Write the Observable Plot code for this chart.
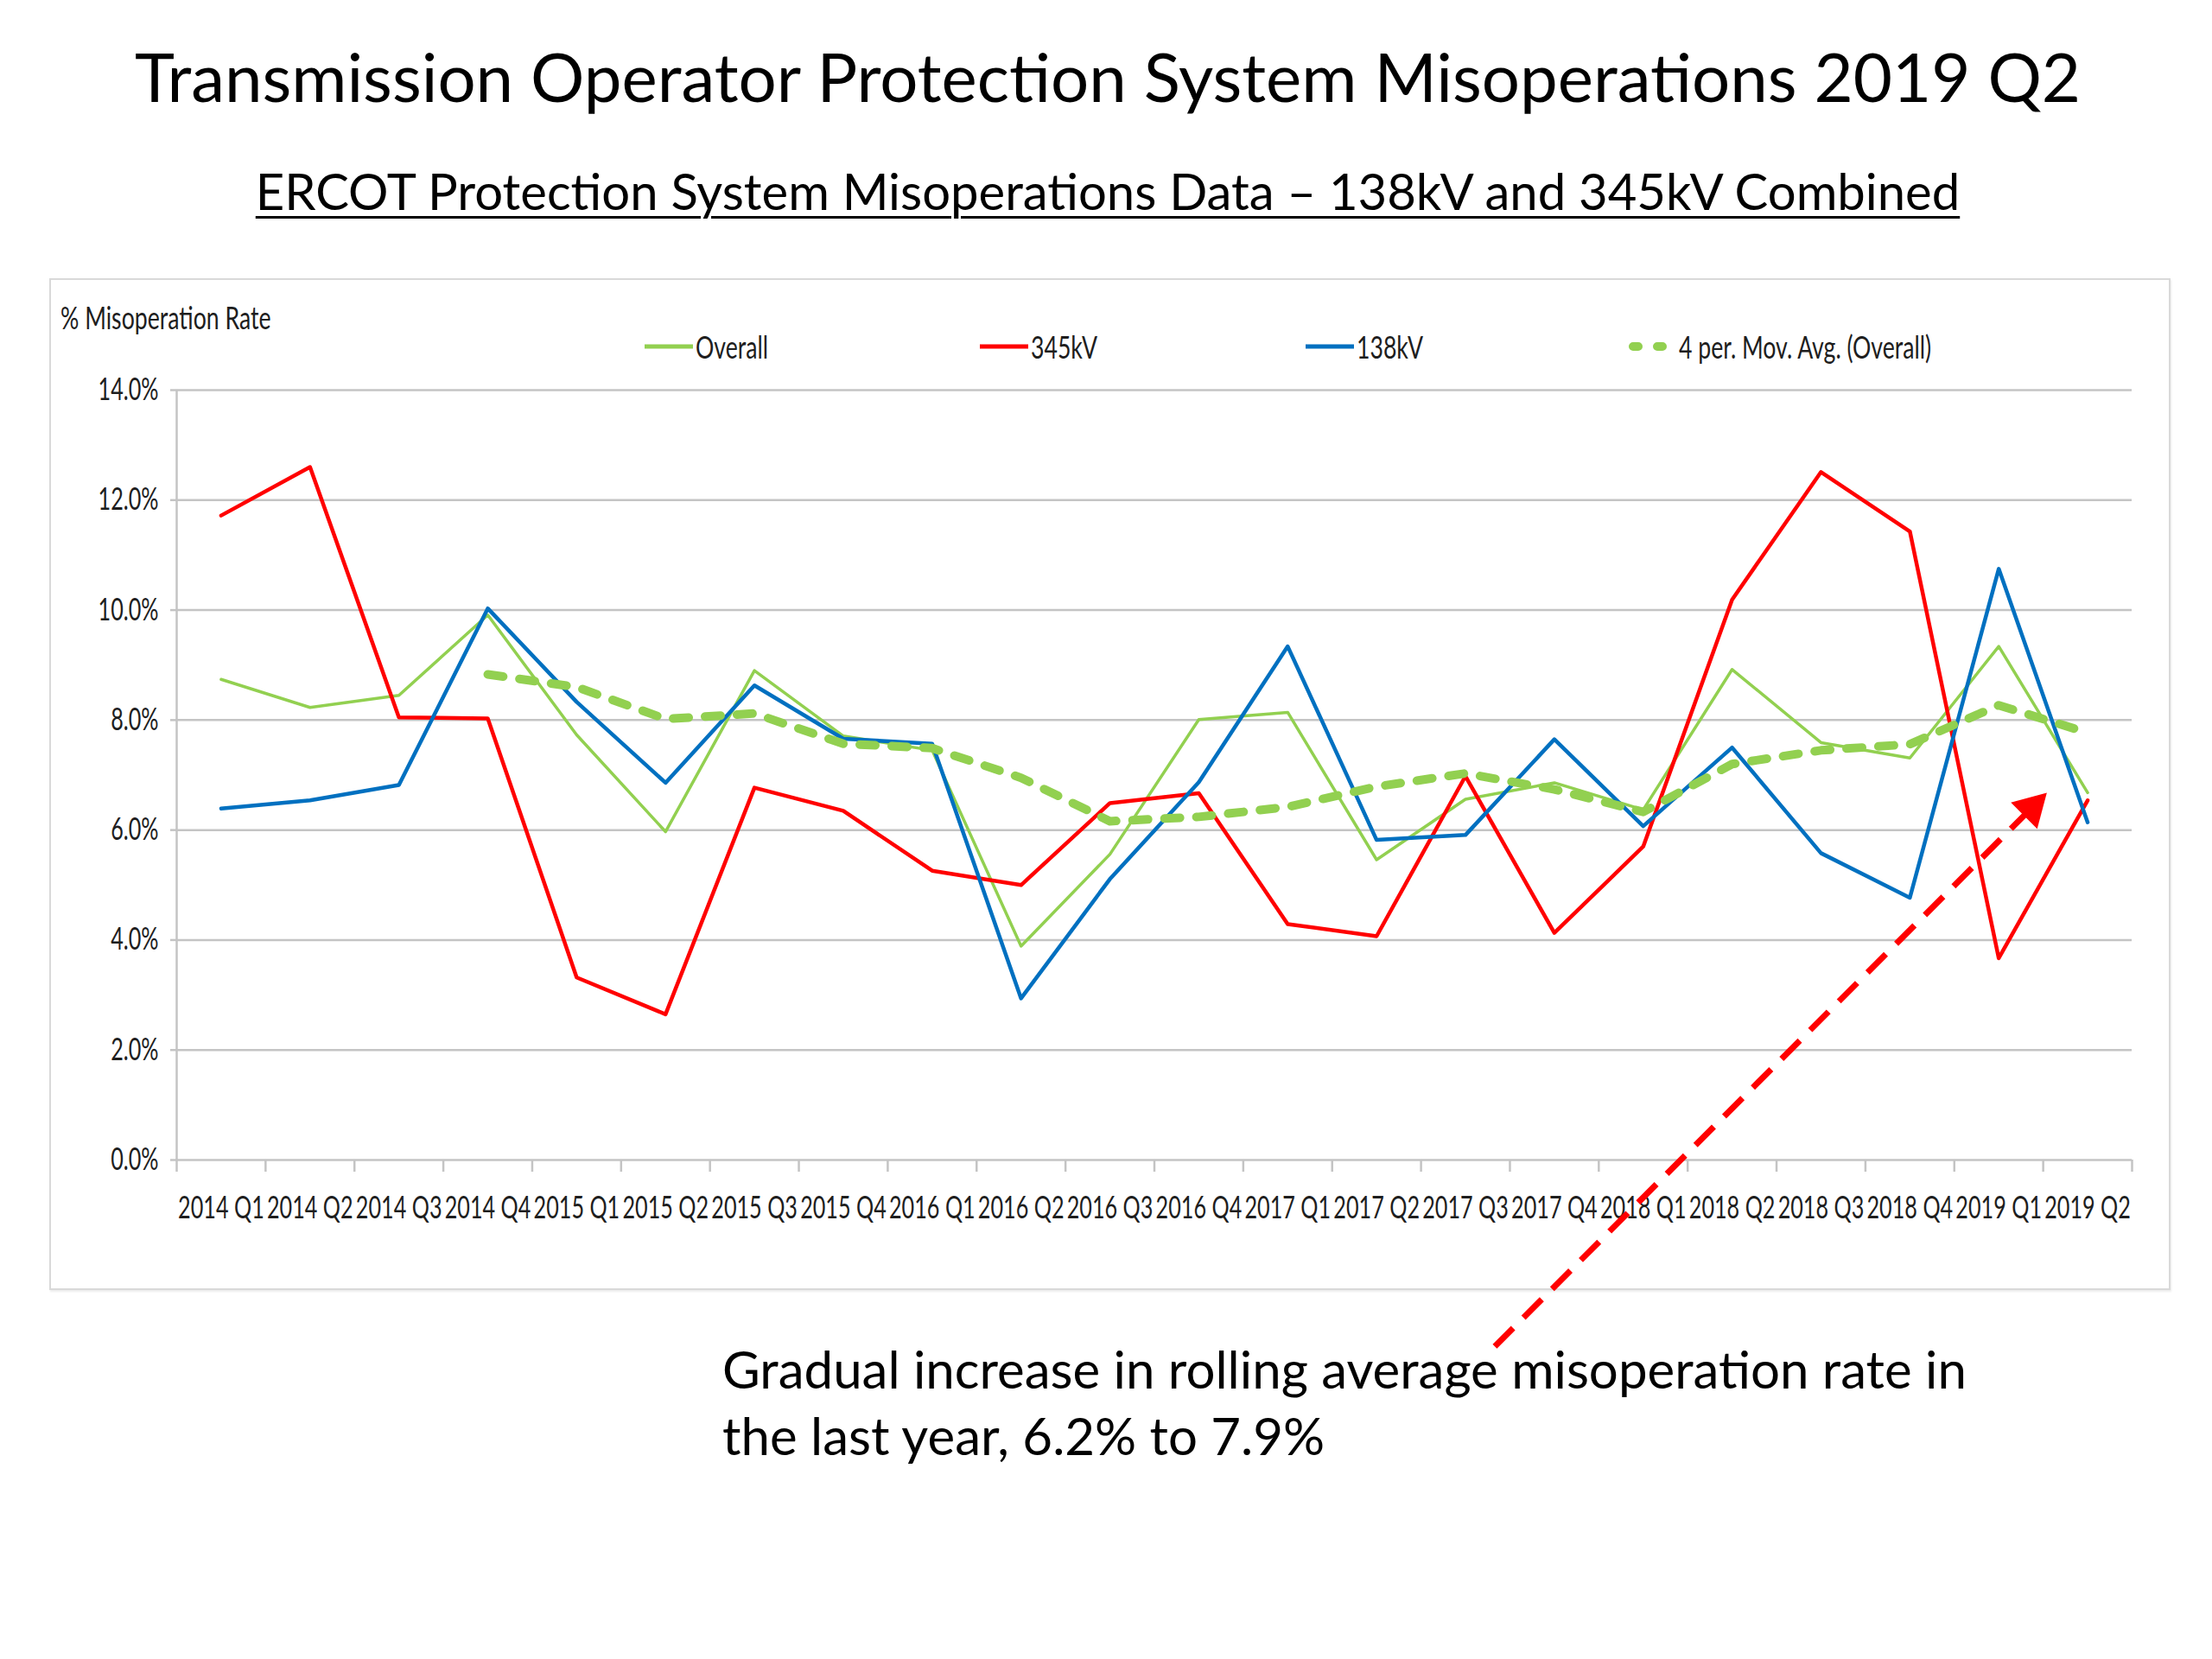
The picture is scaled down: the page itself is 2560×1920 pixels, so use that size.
<!DOCTYPE html>
<html>
<head>
<meta charset="utf-8">
<script src="https://cdn.jsdelivr.net/npm/d3@7"></script>
<script src="https://cdn.jsdelivr.net/npm/@observablehq/plot@0.6"></script>
<style>
  html, body { margin: 0; padding: 0; background: #fff; }
  #page { position: relative; width: 2560px; height: 1920px; overflow: hidden; background: #fff; font-family: Lato, "Open Sans", sans-serif; }
  .title { position: absolute; left: 0; width: 2564px; text-align: center; color: #000; white-space: nowrap; }
  #t1 { top: 49px; font-size: 78px; line-height: 78px; }
  #t2 { top: 192px; font-size: 58px; line-height: 58px; text-decoration: underline; text-decoration-thickness: 3px; text-underline-offset: 7px; }
  #frame { position: absolute; left: 57px; top: 322px; width: 2451px; height: 1167px; border: 2.5px solid #d9d9d9; box-shadow: 1px 2px 2px rgba(0,0,0,0.08); }
  .chartText { font-family: Lato, sans-serif; color: #1e1e1e; font-size: 36px; }
  .squash { display: inline-block; transform: scaleX(0.74); transform-origin: left center; }
  #ylabel { position: absolute; left: 70px; top: 347px; line-height: 40px; white-space: nowrap; }
  .leg { position: absolute; top: 381px; height: 40px; line-height: 40px; white-space: nowrap; display: flex; align-items: center; }
  .leg svg { display: block; margin-right: 1px; }
  #plotHolder { position: absolute; left: 0; top: 322px; }
  #note { position: absolute; left: 836px; top: 1546px; font-size: 60px; line-height: 77px; color: #000; white-space: nowrap; }
</style>
</head>
<body>
<div id="page">
  <div id="t1" class="title">Transmission Operator Protection System Misoperations 2019 Q2</div>
  <div id="t2" class="title">ERCOT Protection System Misoperations Data – 138kV and 345kV Combined</div>
  <div id="frame"></div>
  <div id="ylabel" class="chartText"><span class="squash">% Misoperation Rate</span></div>
  <div id="legend"></div>
  <div id="plotHolder"></div>
  <div id="note">Gradual increase in rolling average misoperation rate in<br>the last year, 6.2% to 7.9%</div>
</div>
<script>
// ---- data ----
const categories = ["2014 Q1","2014 Q2","2014 Q3","2014 Q4","2015 Q1","2015 Q2","2015 Q3","2015 Q4",
  "2016 Q1","2016 Q2","2016 Q3","2016 Q4","2017 Q1","2017 Q2","2017 Q3","2017 Q4",
  "2018 Q1","2018 Q2","2018 Q3","2018 Q4","2019 Q1","2019 Q2"];
const overall = [8.74, 8.23, 8.45, 9.91, 7.73, 5.97, 8.90, 7.71, 7.45, 3.89, 5.56, 8.01, 8.14, 5.46, 6.56, 6.86, 6.37, 8.92, 7.59, 7.31, 9.34, 6.68];
const kv345 = [11.72, 12.60, 8.05, 8.03, 3.32, 2.65, 6.77, 6.35, 5.26, 5.00, 6.49, 6.67, 4.29, 4.07, 6.98, 4.13, 5.70, 10.19, 12.51, 11.43, 3.67, 6.54];
const kv138 = [6.39, 6.54, 6.82, 10.03, 8.33, 6.86, 8.63, 7.66, 7.57, 2.94, 5.11, 6.87, 9.34, 5.82, 5.91, 7.65, 6.07, 7.50, 5.58, 4.77, 10.75, 6.14];
const movAvg = [null, null, null, 8.83, 8.60, 8.02, 8.12, 7.57, 7.49, 6.95, 6.16, 6.24, 6.42, 6.79, 7.03, 6.74, 6.33, 7.20, 7.45, 7.56, 8.27, 7.77];
const yTicks = [0, 2, 4, 6, 8, 10, 12, 14];
const seriesNames = ["Overall", "345kV", "138kV", "4 per. Mov. Avg. (Overall)"];
// annotation arrow (in chart units: category index, percent)
const arrowLine = [{x1: 14.33, y1: -3.39, x2: 20.40, y2: 6.45}];
const arrowHead = [{x: 20.37, y: 6.40}];

const colors = {overall: "#92d050", kv345: "#ff0000", kv138: "#0070c0"};

const rows = categories.map((c, i) => ({i, c, overall: overall[i], kv345: kv345[i], kv138: kv138[i], ma: movAvg[i]}));
const boundaries = d3.range(categories.length + 1).map(k => k - 0.5);

const chart = Plot.plot({
  width: 2560,
  height: 1598,
  marginLeft: 204,
  marginRight: 93,
  marginTop: 129,
  marginBottom: 578,
  style: {background: "transparent", fontFamily: "Lato, sans-serif", fontSize: "36px", color: "#1e1e1e", overflow: "visible"},
  x: {type: "linear", domain: [-0.5, categories.length - 0.5]},
  y: {domain: [0, 14]},
  marks: [
    Plot.ruleY(yTicks, {stroke: "#c4c4c4", strokeWidth: 2.5}),
    Plot.ruleX([-0.5], {y1: 0, y2: 14, stroke: "#c4c4c4", strokeWidth: 2.5}),
    Plot.axisY({ticks: yTicks, tickFormat: d => d.toFixed(1) + "%", tickSize: 7, tickPadding: 14, stroke: "#c4c4c4", strokeWidth: 2.5, fill: "#1e1e1e", label: null}),
    Plot.axisX({ticks: boundaries, tickFormat: () => "", tickSize: 14, stroke: "#c4c4c4", strokeWidth: 2.5, label: null}),
    Plot.axisX({ticks: d3.range(categories.length), tickFormat: i => categories[i], tickSize: 0, tickPadding: 42, fill: "#1e1e1e", fontSize: 36, label: null}),
    Plot.line(rows, {x: "i", y: "overall", stroke: colors.overall, strokeWidth: 3.5, strokeLinejoin: "round"}),
    Plot.line(rows, {x: "i", y: "kv345", stroke: colors.kv345, strokeWidth: 4.5, strokeLinejoin: "round"}),
    Plot.line(rows, {x: "i", y: "kv138", stroke: colors.kv138, strokeWidth: 4.5, strokeLinejoin: "round"}),
    Plot.line(rows.filter(d => d.ma != null), {x: "i", y: "ma", stroke: colors.overall, strokeWidth: 10, strokeDasharray: "18,19", strokeLinecap: "round", strokeLinejoin: "round"}),
    Plot.link(arrowLine, {x1: "x1", y1: "y1", x2: "x2", y2: "y2", stroke: "#ff0000", strokeWidth: 7, strokeDasharray: "30,17", clip: false}),
    Plot.dot(arrowHead, {x: "x", y: "y", symbol: "triangle", r: 16, fill: "#ff0000", stroke: "none", rotate: 45})
  ]
});

// squeeze the axis tick labels horizontally, like the narrow chart lettering of the original
chart.querySelectorAll('g[aria-label$="tick label"] text').forEach(t => {
  let tr = t.getAttribute("transform");
  if (!tr) {
    const x = t.getAttribute("x") || 0, y = t.getAttribute("y") || 0;
    t.removeAttribute("x"); t.removeAttribute("y");
    tr = `translate(${x},${y})`;
  }
  t.setAttribute("transform", tr + " scale(0.7,1)");
});
document.getElementById("plotHolder").appendChild(chart);

// legend
const legendItems = [
  {name: seriesNames[0], color: colors.overall, left: 746, dash: null},
  {name: seriesNames[1], color: colors.kv345, left: 1134, dash: null},
  {name: seriesNames[2], color: colors.kv138, left: 1511, dash: null},
  {name: seriesNames[3], color: colors.overall, left: 1884, dash: "6,22"}
];
const legend = document.getElementById("legend");
legendItems.forEach(it => {
  const div = document.createElement("div");
  div.className = "leg chartText";
  div.style.left = it.left + "px";
  const svg = `<svg width="58" height="20"><line x1="${it.dash ? 6 : 0}" y1="10" x2="${it.dash ? 52 : 56}" y2="10" stroke="${it.color}" stroke-width="${it.dash ? 10 : 5}" ${it.dash ? `stroke-dasharray="${it.dash}" stroke-linecap="round"` : ""}/></svg>`;
  div.innerHTML = svg + `<span class="squash">${it.name}</span>`;
  legend.appendChild(div);
});
</script>
</body>
</html>
